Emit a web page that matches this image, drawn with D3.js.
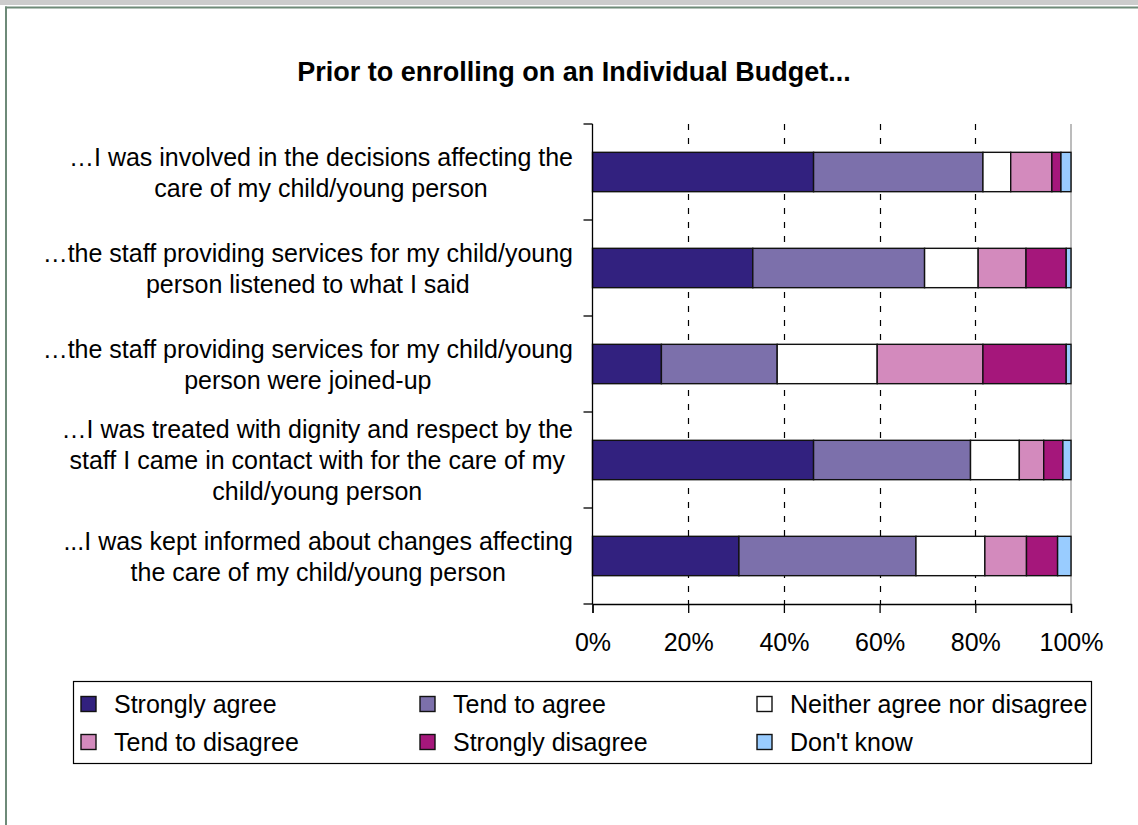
<!DOCTYPE html>
<html>
<head>
<meta charset="utf-8">
<script src="https://cdn.jsdelivr.net/npm/d3@7"></script>
<style>
  html, body { margin: 0; padding: 0; background: #ffffff; }
  svg { display: block; }
  text { font-family: "Liberation Sans", Arial, Helvetica, sans-serif; fill: #000; }
</style>
</head>
<body>
<svg id="chart" width="1138" height="825"></svg>
<script>
// Survey statements (one bar each); "\n" marks a line break in the label
const categories = [
  "\u2026I was involved in the decisions affecting the\ncare of my child/young person",
  "\u2026the staff providing services for my child/young\nperson listened to what I said",
  "\u2026the staff providing services for my child/young\nperson were joined-up",
  "\u2026I was treated with dignity and respect by the\nstaff I came in contact with for the care of my\nchild/young person",
  "...I was kept informed about changes affecting\nthe care of my child/young person"
];

// Response shares (%) per statement, in category order
const stronglyAgree    = [46.2, 33.5, 14.4, 46.2, 30.6];
const tendToAgree      = [35.4, 35.9, 24.2, 32.8, 37.0];
const neitherAgree     = [5.8, 11.2, 20.9, 10.2, 14.4];
const tendToDisagree   = [8.6, 10.0, 22.1, 5.1, 8.7];
const stronglyDisagree = [1.9, 8.4, 17.4, 4.0, 6.5];
const dontKnow         = [2.1, 1.0, 1.0, 1.7, 2.8];

const seriesNames = ["Strongly agree", "Tend to agree", "Neither agree nor disagree",
                     "Tend to disagree", "Strongly disagree", "Don't know"];
const seriesColors = ["#32217f", "#7c70ab", "#ffffff", "#d38abd", "#a5177b", "#99ccff"];
const xTicks = [0, 20, 40, 60, 80, 100];
const xTickLabels = ["0%", "20%", "40%", "60%", "80%", "100%"];
const titleText = "Prior to enrolling on an Individual Budget...";

const seriesValues = [stronglyAgree, tendToAgree, neitherAgree, tendToDisagree, stronglyDisagree, dontKnow];
const rows = categories.map((c, i) => {
  const r = { category: c };
  seriesNames.forEach((s, k) => { r[s] = seriesValues[k][i]; });
  return r;
});

const svg = d3.select("#chart");
const W = 1138, H = 825;

// outer frame of the chart sheet
svg.append("rect").attr("x", 0).attr("y", 0).attr("width", W).attr("height", 5).attr("fill", "#cccccc");
svg.append("line").attr("x1", 5).attr("x2", W).attr("y1", 7.5).attr("y2", 7.5)
  .attr("stroke", "#6e8a78").attr("stroke-width", 2);
svg.append("line").attr("x1", 6).attr("x2", 6).attr("y1", 6.5).attr("y2", H)
  .attr("stroke", "#6e8a78").attr("stroke-width", 2);

// title
svg.append("text")
  .attr("x", 574).attr("y", 81)
  .attr("text-anchor", "middle")
  .style("font-size", "27px").style("font-weight", "bold")
  .text(titleText);

// plot area
const plot = { left: 592.5, right: 1071, top: 124, bottom: 604 };

const x = d3.scaleLinear().domain([0, 100]).range([plot.left, plot.right]);
const y = d3.scaleBand().domain(categories)
  .range([plot.top, plot.bottom])
  .paddingInner(0.59).paddingOuter(0.295);

const g = svg.append("g");

// dashed vertical gridlines
g.append("g").selectAll("line")
  .data(xTicks.filter(t => t > 0 && t < 100))
  .join("line")
  .attr("x1", d => Math.round(x(d)) + 0.5).attr("x2", d => Math.round(x(d)) + 0.5)
  .attr("y1", plot.top).attr("y2", plot.bottom)
  .attr("stroke", "#000").attr("stroke-width", 1.2)
  .attr("stroke-dasharray", "6,8");

// right border of plot area
g.append("line")
  .attr("x1", plot.right).attr("x2", plot.right)
  .attr("y1", plot.top).attr("y2", plot.bottom)
  .attr("stroke", "#a6a6a6").attr("stroke-width", 1.5);

// stacked bars
const stacked = d3.stack().keys(seriesNames)(rows);
g.append("g").selectAll("g")
  .data(stacked)
  .join("g")
  .attr("fill", (d, i) => seriesColors[i])
  .selectAll("rect")
  .data(d => d)
  .join("rect")
  .attr("x", d => x(d[0]))
  .attr("width", d => x(d[1]) - x(d[0]))
  .attr("y", d => y(d.data.category))
  .attr("height", y.bandwidth())
  .attr("stroke", "#111")
  .attr("stroke-width", 1.4);

// category axis: line with ticks at band boundaries
const step = y.step();
const boundaries = categories.map(c => y(c) - step * y.paddingInner() / 2);
boundaries.push(plot.bottom);
g.append("line")
  .attr("x1", plot.left).attr("x2", plot.left)
  .attr("y1", plot.top).attr("y2", plot.bottom)
  .attr("stroke", "#000").attr("stroke-width", 1.3);
g.append("g").selectAll("line")
  .data(boundaries)
  .join("line")
  .attr("x1", plot.left - 9).attr("x2", plot.left)
  .attr("y1", d => d).attr("y2", d => d)
  .attr("stroke", "#000").attr("stroke-width", 1.3);

// category labels: lines centred within a right-aligned block
const labelRight = 573;
const lineGap = 31;
categories.forEach(c => {
  const lines = c.split("\n");
  const cy = y(c) + y.bandwidth() / 2;
  const grp = svg.append("g");
  const texts = lines.map((ln, i) => grp.append("text")
    .attr("y", cy + (i - (lines.length - 1) / 2) * lineGap + 9)
    .attr("text-anchor", "middle")
    .style("font-size", "25px")
    .text(ln));
  const maxW = d3.max(texts, t => t.node().getComputedTextLength());
  texts.forEach(t => t.attr("x", labelRight - maxW / 2));
});

// value axis at the bottom
const xAxis = d3.axisBottom(x)
  .tickValues(xTicks)
  .tickFormat((d, i) => xTickLabels[i])
  .tickSize(9).tickPadding(20);
const ax = svg.append("g")
  .attr("transform", `translate(0,${plot.bottom})`)
  .call(xAxis);
ax.select(".domain").attr("stroke", "#000").attr("stroke-width", 1.3);
ax.selectAll(".tick line").attr("stroke", "#000").attr("stroke-width", 1.3);
ax.selectAll(".tick text")
  .style("font-size", "25px")
  .style("font-family", "\"Liberation Sans\", Arial, sans-serif")
  .attr("fill", "#000");

// legend
const legend = svg.append("g");
legend.append("rect")
  .attr("x", 73.5).attr("y", 681.5).attr("width", 1018).attr("height", 82)
  .attr("fill", "#fff").attr("stroke", "#000").attr("stroke-width", 1.2);
const colX = [81, 420, 757];
const rowY = [704, 742];
seriesNames.forEach((s, i) => {
  const cx = colX[i % 3], cy = rowY[Math.floor(i / 3)];
  legend.append("rect")
    .attr("x", cx).attr("y", cy - 7.5).attr("width", 15).attr("height", 15)
    .attr("fill", seriesColors[i]).attr("stroke", "#111").attr("stroke-width", 1.4);
  legend.append("text")
    .attr("x", cx + 33).attr("y", cy + 9)
    .style("font-size", "25px")
    .text(s);
});
</script>
</body>
</html>
